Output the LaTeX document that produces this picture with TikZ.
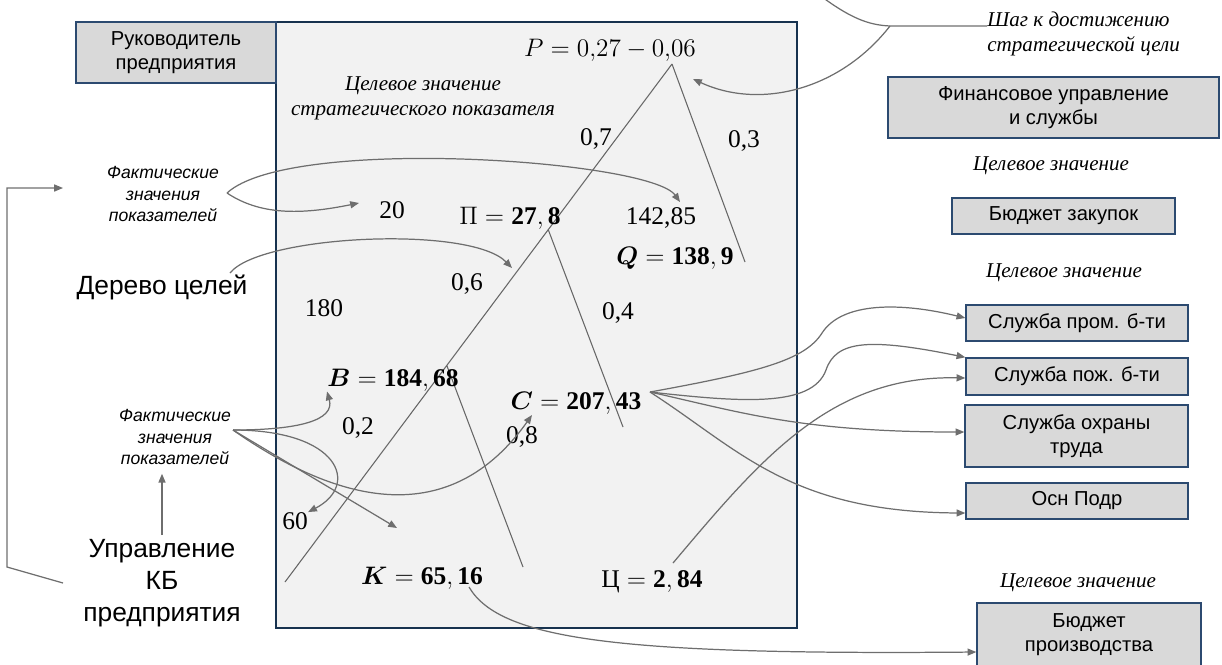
\documentclass[tikz,border=0pt]{standalone}
\usepackage{amsmath,amssymb}
\usepackage{fontspec}
\setmainfont{Liberation Serif}
\setsansfont{Liberation Sans}
\usetikzlibrary{arrows.meta}

\definecolor{panelfill}{HTML}{F2F2F2}
\definecolor{panelline}{HTML}{17324F}
\definecolor{boxfill}{HTML}{D9D9D9}
\definecolor{boxline}{HTML}{2C4A70}
\definecolor{treegray}{HTML}{666666}
\definecolor{linkgray}{HTML}{6E6E6E}

\begin{document}
\begin{tikzpicture}[
    x=0.02cm, y=-0.02cm,
    panel/.style    = {draw=panelline, line width=1.1pt, fill=panelfill},
    unitbox/.style  = {draw=boxline, line width=0.8pt, fill=boxfill, inner sep=0pt,
                       align=center, font=\sffamily\fontsize{11.5}{13.6}\selectfont},
    note/.style     = {align=center, inner sep=0pt, font=\itshape\fontsize{12}{14.2}\selectfont},
    factnote/.style = {align=center, inner sep=0pt, font=\sffamily\itshape\fontsize{10}{12.2}\selectfont},
    bigtag/.style   = {align=center, inner sep=0pt, font=\sffamily\fontsize{15}{18.4}\selectfont},
    weight/.style   = {inner sep=0pt, font=\fontsize{14.5}{16}\selectfont},
    value/.style    = {inner sep=0pt, font=\fontsize{14.5}{16}\selectfont},
    branch/.style   = {draw=treegray, line width=0.6pt},
    link/.style     = {draw=linkgray, line width=0.7pt, -{Triangle[length=5pt,width=4pt]}}
    ]
      \useasboundingbox (0,0) rectangle (1222,664);
      \clip (0,0) rectangle (1222,664);

      % panel with the goal tree -----------------------------------
      \draw[panel] (276,22) rectangle (797,628);
      \node[unitbox, minimum width=4cm, minimum height=1.22cm] (lead) at (176,52.5)
            {Руководитель\\предприятия};

      % tree branches ----------------------------------------------
      \coordinate (p-root) at (672,64);
      \coordinate (p-left) at (285,582);
      \coordinate (p-right) at (745,262);
      \coordinate (pi-knot) at (548,229);
      \coordinate (pi-right) at (623,427);
      \coordinate (b-knot) at (447,366);
      \coordinate (b-right) at (523,567);
      \draw[branch] (p-root) -- (p-left)
                    (p-root) -- (p-right)
                    (pi-knot) -- (pi-right)
                    (b-knot) -- (b-right);

      % values and weights -----------------------------------------
      \node[value]  (P)   at (610,50)  {$P = 0{,}27 - 0{,}06$};
      \node[note]   (aim) at (423,98)  {Целевое значение\\стратегического показателя};
      \node[weight] (w07) at (596,139) {0,7};
      \node[weight] (w03) at (744,141) {0,3};
      \node[weight] (n20) at (392,210) {20};
      \node[value]  (Pi)  at (510,218) {$\Pi = \mathbf{27,8}$};
      \node[weight] (n142) at (661,218) {142,85};
      \node[value]  (Q)   at (675,258) {$\boldsymbol{Q} = \mathbf{138,9}$};
      \node[weight] (w06) at (467,284) {0,6};
      \node[weight] (n180) at (324,308) {180};
      \node[weight] (w04) at (618,313) {0,4};
      \node[value]  (B)   at (393,380) {$\boldsymbol{B} = \mathbf{184,68}$};
      \node[value]  (C)   at (576,403) {$\boldsymbol{C} = \mathbf{207,43}$};
      \node[weight] (w02) at (358,428) {0,2};
      \node[weight] (w08) at (522,437) {0,8};
      \node[weight] (n60) at (295,521) {60};
      \node[value]  (K)   at (422,578) {$\boldsymbol{K} = \mathbf{65,16}$};
      \node[value]  (Ts)  at (652,582) {$\text{Ц} = \mathbf{2,84}$};

      % left side labels -------------------------------------------
      \node[factnote] (fact1) at (163,194) {Фактические\\значения\\показателей};
      \node[bigtag]   (tree)  at (162,287) {Дерево целей};
      \node[factnote] (fact2) at (175,437) {Фактические\\значения\\показателей};
      \node[bigtag]   (kb)    at (162,583) {Управление\\КБ\\предприятия};

      % right side units -------------------------------------------
      \node[note, align=left, anchor=west] (step) at (987,34)
            {Шаг к достижению\\стратегической цели};
      \node[unitbox, minimum width=6.62cm, minimum height=1.22cm] (fin) at (1053.5,107.5)
            {Финансовое управление\\и службы};
      \node[note] (aim1) at (1051,166) {Целевое значение};
      \node[unitbox, minimum width=4.46cm, minimum height=0.72cm] (zakup) at (1063.5,216)
            {Бюджет закупок};
      \node[note] (aim2) at (1064,273) {Целевое значение};
      \node[unitbox, minimum width=4.44cm, minimum height=0.72cm] (prom) at (1077,323)
            {Служба пром. б-ти};
      \node[unitbox, minimum width=4.44cm, minimum height=0.74cm] (pozh) at (1077,376.5)
            {Служба пож. б-ти};
      \node[unitbox, minimum width=4.46cm, minimum height=1.24cm] (ohrana) at (1076.5,436)
            {Служба охраны\\труда};
      \node[unitbox, minimum width=4.44cm, minimum height=0.72cm] (osn) at (1077,501)
            {Осн Подр};
      \node[note] (aim3) at (1078,583) {Целевое значение};
      \node[unitbox, minimum width=4.48cm, minimum height=1.26cm] (proizv) at (1089,634.5)
            {Бюджет\\производства};

      % connector ends ---------------------------------------------
      \coordinate (f1-out) at (227,193);
      \coordinate (f2-out) at (233,430);
      \coordinate (tree-out) at (230,273);
      \coordinate (c-fan) at (650,392);
      \coordinate (ts-out) at (673,563);
      \coordinate (k-out) at (469,587);
      \coordinate (n142-in) at (680,202);
      \coordinate (n20-in) at (359,203);
      \coordinate (w06-in) at (512,268);
      \coordinate (c-in) at (532,415);
      \coordinate (k-in) at (397,528);
      \coordinate (p-in) at (693,79);
      \coordinate (brk-tip) at (63,188);
      \coordinate (brk-foot) at (63,583);
      \coordinate (step-top) at (818,-6);
      \coordinate (step-knee) at (890,26);

      % connectors -------------------------------------------------
      \draw[link] (f1-out) .. controls (290,135) and (650,160) .. (n142-in);
      \draw[link] (f1-out) .. controls (260,215) and (300,215) .. (n20-in);
      \draw[link] (tree-out) .. controls (260,235) and (470,225) .. (w06-in);
      \draw[link] (f2-out) .. controls (300,430) and (335,420) .. (B.south west);
      \draw[link] (f2-out) .. controls (340,430) and (360,485) .. (n60.north east);
      \draw[link] (f2-out) .. controls (340,505) and (450,530) .. (c-in);
      \draw[link] (f2-out) -- (k-in);
      \draw[link, shorten <=2pt, shorten >=5pt] (kb.north) -- (kb.north |- fact2.south);
      \draw[link] (brk-foot) -- (7,567) -- (7,188) -- (brk-tip);

      \draw[link] (c-fan) .. controls (760,372) and (805,360) .. (822,333)
                          .. controls (842,302) and (900,302) .. (prom.west |- 0,318);
      \draw[link] (c-fan) .. controls (740,402) and (812,408) .. (826,370)
                          .. controls (836,340) and (870,338) .. (pozh.north west);
      \draw[link] (ts-out) .. controls (760,460) and (830,375) .. (pozh.west |- 0,378);
      \draw[link] (c-fan) .. controls (740,412) and (800,432) .. (ohrana.west |- 0,432);
      \draw[link] (c-fan) .. controls (740,450) and (790,512) .. (osn.west |- 0,513);
      \draw[link] (k-out) .. controls (500,640) and (620,655) .. (proizv.west |- 0,652);

      \draw[link, -] (step-top) .. controls (850,18) and (868,25) .. (step-knee) -- (step.west |- 0,26);
      \draw[link] (step-knee) .. controls (840,90) and (760,110) .. (p-in);
\end{tikzpicture}
\end{document}
